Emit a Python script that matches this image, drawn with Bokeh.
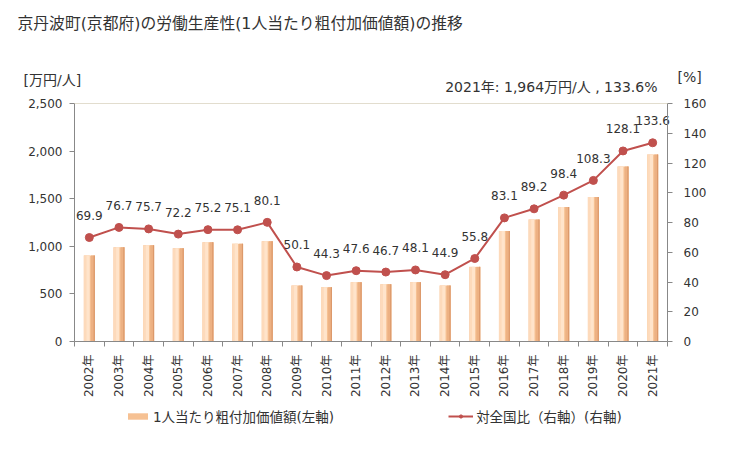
import math
from bokeh.plotting import figure
from bokeh.models import (ColumnDataSource, Range1d, LinearAxis, FixedTicker,
                          NumeralTickFormatter, BoxAnnotation, Label, Legend, LegendItem)
from bokeh.transform import dodge
from bokeh.core.properties import value
from bokeh.embed import file_html
from bokeh.resources import INLINE

# ---- data ----
years = ["2002年", "2003年", "2004年", "2005年", "2006年", "2007年", "2008年",
         "2009年", "2010年", "2011年", "2012年", "2013年", "2014年", "2015年",
         "2016年", "2017年", "2018年", "2019年", "2020年", "2021年"]
values = [903, 991, 1011, 980, 1043, 1026, 1053, 588, 570, 623, 602, 623,
          588, 784, 1162, 1281, 1414, 1519, 1838, 1964]
ratio = [69.9, 76.7, 75.7, 72.2, 75.2, 75.1, 80.1, 50.1, 44.3, 47.6, 46.7,
         48.1, 44.9, 55.8, 83.1, 89.2, 98.4, 108.3, 128.1, 133.6]
left_ticks = [0, 500, 1000, 1500, 2000, 2500]
right_ticks = [0, 20, 40, 60, 80, 100, 120, 140, 160]

title_text = "京丹波町(京都府)の労働生産性(1人当たり粗付加価値額)の推移"
left_unit = "[万円/人]"
right_unit = "[%]"
bar_name = "1人当たり粗付加価値額(左軸)"
line_name = "対全国比（右軸）(右軸)"

FONT = "DejaVu Sans, Noto Sans CJK JP"
TXT = "#333333"
AXIS = "#888888"
RED = "#C0504D"

# ---- layout (pixels) ----
CW, CH = 728, 445                   # canvas
PL, PR, PT, PB = 74, 667, 103, 341  # plot area edges

n = len(years)
xs = list(range(n))
src = ColumnDataSource(dict(x=xs, year=years, v=values, r=ratio,
                            lab=[f"{r:.1f}" for r in ratio]))

xpx = (PR - PL) / n
x0 = -0.5 - PL / xpx
x1 = n - 0.5 + (CW - PR) / xpx
ly = left_ticks[-1] / (PB - PT)
ry = right_ticks[-1] / (PB - PT)

p = figure(width=CW, height=CH, output_backend="svg", toolbar_location=None,
           min_border=0,
           x_range=Range1d(x0, x1),
           y_range=Range1d(-(CH - PB) * ly, left_ticks[-1] + PT * ly),
           x_axis_type=None, y_axis_type=None)
p.outline_line_color = None
p.grid.visible = False
p.background_fill_color = "white"
p.border_fill_color = "white"
p.extra_y_ranges = {"pct": Range1d(-(CH - PB) * ry, right_ticks[-1] + PT * ry)}

# top border of plot area
p.add_layout(BoxAnnotation(left=-0.5, right=n - 0.5, bottom=left_ticks[-1], top=left_ticks[-1],
                           fill_alpha=0, line_color="#C8BE9E", line_width=1))

# ---- axes ----
xaxis = LinearAxis(ticker=FixedTicker(ticks=xs, minor_ticks=[i - 0.5 for i in range(n + 1)]),
                   major_label_overrides={i: y for i, y in zip(xs, years)},
                   major_label_orientation=math.pi / 2, fixed_location=0,
                   bounds=(-0.5, n - 0.5))
xaxis.major_tick_line_color = None
xaxis.minor_tick_out = 5
xaxis.minor_tick_in = 0
xaxis.minor_tick_line_color = AXIS
xaxis.axis_line_color = AXIS
xaxis.major_label_text_font = FONT
xaxis.major_label_text_font_size = "12px"
xaxis.major_label_text_color = TXT
xaxis.major_label_standoff = 7
p.add_layout(xaxis, "below")

yaxis = LinearAxis(ticker=FixedTicker(ticks=left_ticks),
                   formatter=NumeralTickFormatter(format="0,0"),
                   fixed_location=-0.5, bounds=(0, left_ticks[-1]))
yaxis.minor_tick_line_color = None
yaxis.major_tick_out = 5
yaxis.major_tick_in = 0
yaxis.major_tick_line_color = AXIS
yaxis.axis_line_color = AXIS
yaxis.major_label_text_font = FONT
yaxis.major_label_text_font_size = "12px"
yaxis.major_label_text_color = TXT
yaxis.major_label_standoff = 7
p.add_layout(yaxis, "left")

raxis = LinearAxis(y_range_name="pct", ticker=FixedTicker(ticks=right_ticks),
                   fixed_location=n - 0.5, bounds=(0, right_ticks[-1]))
raxis.minor_tick_line_color = None
raxis.major_tick_out = 5
raxis.major_tick_in = 0
raxis.major_tick_line_color = AXIS
raxis.axis_line_color = AXIS
raxis.major_label_text_font = FONT
raxis.major_label_text_font_size = "12px"
raxis.major_label_text_color = TXT
raxis.major_label_standoff = 11
p.add_layout(raxis, "right")

# ---- bars with a gradient imitation ----
W = 0.37
base = p.vbar(x="x", top="v", width=W, source=src, fill_color="#F6C193", line_color=None)
slices = [(-0.095, 0.18, "#FDDABB"), (-0.04, 0.11, "#FFE4CB"),
          (0.12, 0.13, "#EDB183"), (0.165, 0.04, "#DC996B")]
for off, w, c in slices:
    p.vbar(x=dodge("x", off), top="v", width=w, source=src, fill_color=c, line_color=None)

# ---- line ----
ln = p.line("x", "r", source=src, y_range_name="pct", line_color=RED, line_width=2)
sc = p.scatter("x", "r", source=src, y_range_name="pct", size=8,
               fill_color=RED, line_color=RED)
p.text("x", "r", text="lab", source=src, y_range_name="pct", y_offset=-22,
       text_align="center", text_baseline="middle", text_font=value(FONT),
       text_font_size="12px", text_color=TXT)

# ---- header texts (screen px from bottom-left) ----
p.add_layout(Label(x=17, y=CH - 23, x_units="screen", y_units="screen", text=title_text,
                   text_font=FONT, text_font_size="15.8px", text_color=TXT,
                   text_baseline="middle"))
p.add_layout(Label(x=23, y=CH - 79, x_units="screen", y_units="screen", text=left_unit,
                   text_font=FONT, text_font_size="14px", text_color=TXT,
                   text_baseline="middle"))
p.add_layout(Label(x=677, y=CH - 76, x_units="screen", y_units="screen", text=right_unit,
                   text_font=FONT, text_font_size="14px", text_color=TXT,
                   text_baseline="middle"))
p.add_layout(Label(x=657, y=CH - 86.5, x_units="screen", y_units="screen",
                   text=f"{years[-1]}: {values[-1]:,}万円/人 , {ratio[-1]}%",
                   text_font=FONT, text_font_size="14px", text_color=TXT,
                   text_align="right", text_baseline="middle"))

# ---- legend ----
legend = Legend(items=[LegendItem(label=bar_name, renderers=[base]),
                       LegendItem(label=line_name, renderers=[ln, sc])],
                orientation="horizontal", location=(125, 19), padding=0, margin=0,
                spacing=114, glyph_width=25, glyph_height=8, label_standoff=3,
                border_line_color=None, background_fill_alpha=0,
                label_text_font=FONT, label_text_font_size="13.5px",
                label_text_color=TXT)
p.add_layout(legend, "center")

open("out.html", "w").write(file_html(p, INLINE))
